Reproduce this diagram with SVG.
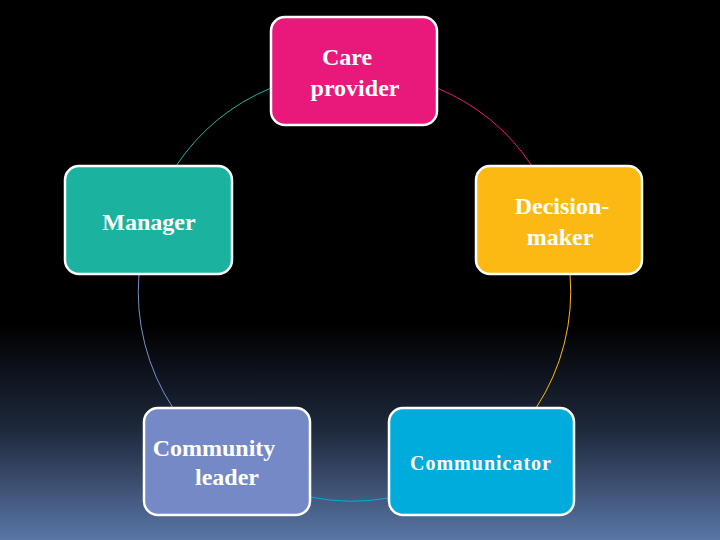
<svg xmlns="http://www.w3.org/2000/svg" width="720" height="540" viewBox="0 0 720 540">
<defs>
<linearGradient id="bg" x1="0" y1="0" x2="0" y2="1">
<stop offset="0" stop-color="#000"/><stop offset="0.6" stop-color="#000"/><stop offset="0.8" stop-color="#1f2a3e"/><stop offset="1" stop-color="#5a76a6"/>
</linearGradient>
</defs>
<style>
.box{stroke:#fff;stroke-width:2.5}
.t{font-family:"Liberation Serif",serif;font-weight:bold;font-size:24px;fill:#fff;text-anchor:middle}
.arc{fill:none;stroke-width:1}
</style>
<rect width="720" height="540" fill="url(#bg)"/>
<g id="connectors">
<path class="arc" stroke="#e8197a" d="M437,88 A212,212 0 0 1 532,166"/>
<path class="arc" stroke="#fdb913" d="M570,274 A212,212 0 0 1 536,408"/>
<path class="arc" stroke="#00aedc" d="M389,498 A212,212 0 0 1 310,497"/>
<path class="arc" stroke="#7b8fc8" d="M173,408 A212,212 0 0 1 139,274"/>
<path class="arc" stroke="#1bb3a0" d="M176,166 A212,212 0 0 1 271,88"/>
</g>
<g id="care"><rect class="box" x="271" y="17" width="166" height="108" rx="14" fill="#e8197a"/>
<text class="t" x="347" y="65">Care</text><text class="t" x="355" y="96">provider</text></g>
<g id="decision"><rect class="box" x="476" y="166" width="166" height="108" rx="14" fill="#fdb913"/>
<text class="t" x="562" y="214">Decision-</text><text class="t" x="560" y="245">maker</text></g>
<g id="manager"><rect class="box" x="65" y="166" width="167" height="108" rx="14" fill="#1bb3a0"/>
<text class="t" x="149" y="230">Manager</text></g>
<g id="community"><rect class="box" x="144" y="408" width="166" height="107" rx="14" fill="#7489c6"/>
<text class="t" x="214" y="456">Community</text><text class="t" x="227" y="485">leader</text></g>
<g id="communicator"><rect class="box" x="389" y="408" width="185" height="107" rx="14" fill="#00acdc"/>
<text class="t" x="481" y="470" style="font-size:20px;letter-spacing:1px">Communicator</text></g>
</svg>
